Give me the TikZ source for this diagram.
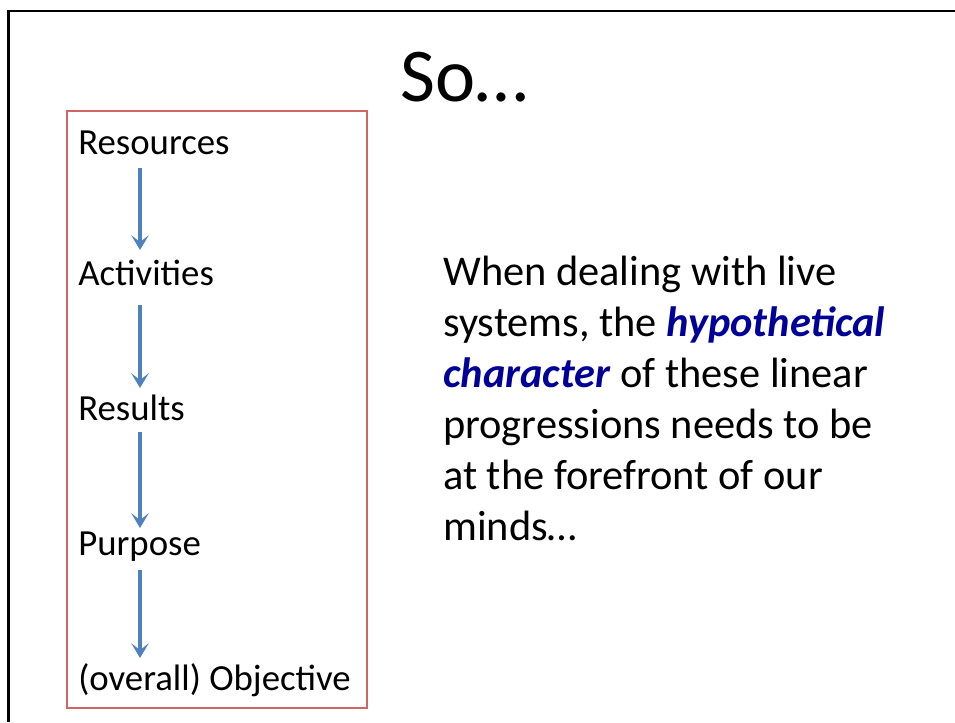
\documentclass[tikz,border=0pt]{standalone}
\usepackage{fontspec}
\setmainfont{Carlito}
\usetikzlibrary{arrows.meta,calc}
\definecolor{boxred}{RGB}{208,102,96}
\definecolor{arrblue}{RGB}{79,129,189}
\definecolor{emphblue}{RGB}{0,0,153}
\tikzset{
  lab/.style={anchor=base west,inner sep=0pt,font=\fontsize{27.6}{33}\selectfont},
  chainarrow/.style={color=arrblue,line width=2.4pt,arrows={-Stealth[length=11pt,width=13pt,inset=5pt]}},
  slideframe/.style={draw=black,line width=1.9pt},
  redbox/.style={draw=boxred,line width=1.9pt}}
\begin{document}
\begin{tikzpicture}[x=0.75pt,y=-0.75pt]
\useasboundingbox[fill=white] (0,0) rectangle (955,722);
\coordinate (fb) at (8.7,722);
\coordinate (fc) at (8.7,11);
\coordinate (fr) at (955,11);
\draw[slideframe] (fb) -- (fc) -- (fr);
\node[anchor=base,inner sep=0pt,font=\fontsize{57}{68}\selectfont] (title) at (464.5,101.7) {So…};
\draw[redbox] (67,111) rectangle (367,708);
\node[lab] (res) at (78,154) {Resources};
\node[lab] (act) at (78,285) {Activities};
\node[lab] (rsl) at (78,420) {Results};
\node[lab] (pur) at (78,555) {Purpose};
\node[lab] (obj) at (78,690) {(overall) Objective};
\path ($(res.base west)+(62,14)$) coordinate (a1s) ($(act.base west)+(62,-35)$) coordinate (a1e)
      ($(act.base west)+(62,20)$) coordinate (a2s) ($(rsl.base west)+(62,-32)$) coordinate (a2e)
      ($(rsl.base west)+(62,12)$) coordinate (a3s) ($(pur.base west)+(62,-27)$) coordinate (a3e)
      ($(pur.base west)+(62,15)$) coordinate (a4s) ($(obj.base west)+(62,-32)$) coordinate (a4e);
\draw[chainarrow] (a1s) -- (a1e);
\draw[chainarrow] (a2s) -- (a2e);
\draw[chainarrow] (a3s) -- (a3e);
\draw[chainarrow] (a4s) -- (a4e);
\node[anchor=base west,inner sep=0pt,font=\fontsize{31.8}{38.3}\selectfont] (txt) at (443,285.5)
 {\vtop{\baselineskip=38.3pt
  \hbox{When dealing with live}
  \hbox{systems, the \textcolor{emphblue}{\textbf{\textit{hypothetical}}}}
  \hbox{\textcolor{emphblue}{\textbf{\textit{character}}} of these linear}
  \hbox{progressions needs to be}
  \hbox{at the forefront of our}
  \hbox{minds…}}};
\end{tikzpicture}
\end{document}
